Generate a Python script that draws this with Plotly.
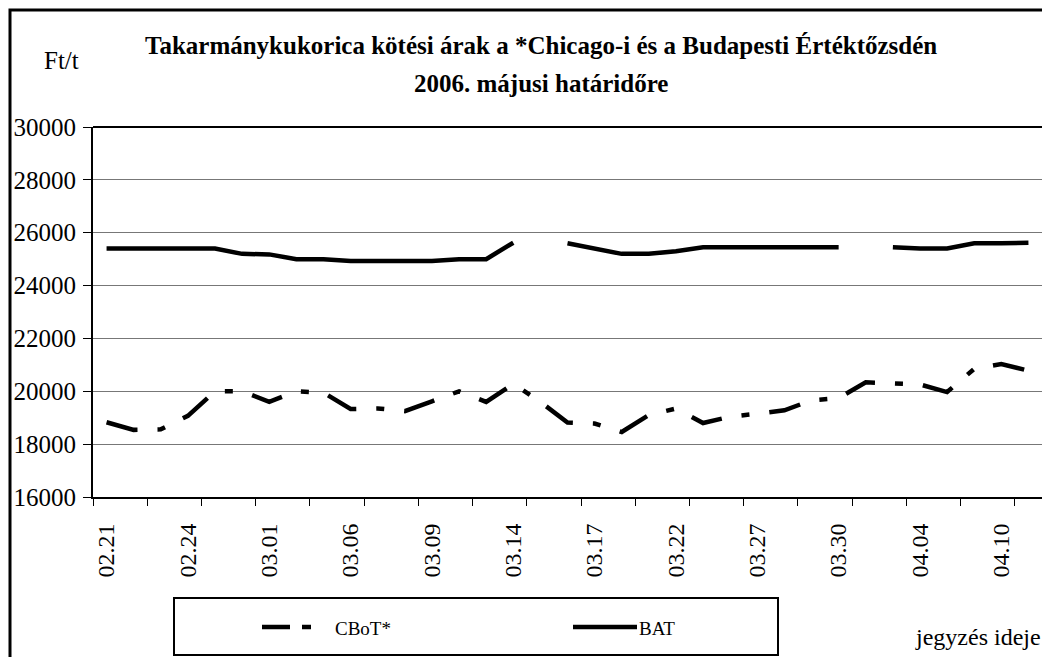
import plotly.graph_objects as go

# trading days (only every third one is labelled on the axis)
dates = ["02.21", "02.22", "02.23", "02.24", "02.27", "02.28", "03.01", "03.02", "03.03",
         "03.06", "03.07", "03.08", "03.09", "03.10", "03.13", "03.14", "03.15", "03.16",
         "03.17", "03.20", "03.21", "03.22", "03.23", "03.24", "03.27", "03.28", "03.29",
         "03.30", "03.31", "04.03", "04.04", "04.05", "04.07", "04.10", "04.11"]

cbot = [18830, 18540, 18560, 19070, 20000, 20000, 19600, 20000, 19950, 19330, 19350, 19250,
        19620, 20000, 19600, 20280, 19600, 18820, 18780, 18460, 19100, 19350, 18800, 19040,
        19150, 19280, 19660, 19740, 20340, 20290, 20260, 19970, 20850, 21030, 20780]

bat = [25400, 25400, 25400, 25400, 25400, 25200, 25180, 25000, 25000, 24930, 24930, 24930,
       24930, 25000, 25000, 25620, None, 25600, 25400, 25200, 25200, 25300, 25450, 25450,
       25450, 25450, 25450, 25450, None, 25450, 25400, 25400, 25600, 25600, 25620]

label_every = 3
SERIF = "serif"

W, H = 1042, 657
PLOT_L, PLOT_T, PLOT_B = 93, 127, 497          # page pixels of the plot area
L, R, T, B = PLOT_L, 0, PLOT_T, H - PLOT_B


def fx(px):
    """page pixel -> paper x"""
    return (px - L) / (W - L - R)


def fy(py):
    """page pixel -> paper y"""
    return (H - B - py) / (H - B - T)


def label(text, px, py, size, anchor="center"):
    fig.add_annotation(text=text, xref="paper", yref="paper", x=fx(px), y=fy(py),
                       xanchor=anchor, yanchor="middle", showarrow=False,
                       font=dict(family=SERIF, size=size, color="black"))


idx = list(range(len(dates)))
cbot_dash = "32px,20px,8px,20px"

fig = go.Figure()
fig.add_trace(go.Scatter(x=idx, y=cbot, name="CBoT*", mode="lines",
                         line=dict(color="black", width=4.5, dash=cbot_dash)))
fig.add_trace(go.Scatter(x=idx, y=bat, name="BAT", mode="lines",
                         line=dict(color="black", width=4.5), connectgaps=False))

fig.update_layout(
    width=W, height=H, autosize=False,
    margin=dict(l=L, r=R, t=T, b=B, pad=0),
    paper_bgcolor="white", plot_bgcolor="white",
    showlegend=False,
    font=dict(family=SERIF, color="black", size=22),
)

fig.update_xaxes(
    range=[-0.5, len(dates) - 0.5],
    tickmode="array",
    tickvals=idx[::label_every],
    ticktext=dates[::label_every],
    tickangle=-90,
    ticks="",
    ticklabelstandoff=15,
    tickfont=dict(family=SERIF, size=24),
    showgrid=False, zeroline=False,
    showline=True, linecolor="black", linewidth=2,
    minor=dict(tickvals=[-0.5 + 2 * k for k in range(18)], ticks="outside",
               ticklen=7, tickcolor="black", tickwidth=1, showgrid=False),
)
fig.update_yaxes(
    range=[16000, 30000], dtick=2000, tick0=16000, tickformat="d",
    ticks="outside", ticklen=8, tickcolor="black",
    ticklabelstandoff=2,
    tickfont=dict(family=SERIF, size=25),
    showgrid=True, gridcolor="#777777", gridwidth=1,
    zeroline=False,
    showline=True, linecolor="black", linewidth=2,
)

# top edge of the plot area (the right edge lies outside the picture)
fig.add_shape(type="line", xref="paper", yref="paper", x0=0, x1=1, y0=1, y1=1,
              line=dict(color="black", width=2))

# outer chart frame (right / bottom edges fall outside the picture)
fig.add_shape(type="rect", xref="paper", yref="paper",
              x0=fx(10), x1=fx(1060), y0=fy(680), y1=fy(10),
              line=dict(color="black", width=3))

# titles and axis captions
label("<b>Takarmánykukorica kötési árak a *Chicago-i és a Budapesti Értéktőzsdén</b>", 541, 45, 25)
label("<b>2006. májusi határidőre</b>", 541, 83, 25)
label("Ft/t", 61, 60, 25)
label("jegyzés ideje", 978, 637, 24)

# legend box
fig.add_shape(type="rect", xref="paper", yref="paper",
              x0=fx(174), x1=fx(778), y0=fy(655), y1=fy(598),
              line=dict(color="black", width=2))
fig.add_shape(type="line", xref="paper", yref="paper",
              x0=fx(262), x1=fx(312), y0=fy(627), y1=fy(627),
              line=dict(color="black", width=4.5, dash="28px,12px,9px,20px"))
label("CBoT*", 333, 628, 19, anchor="left")
fig.add_shape(type="line", xref="paper", yref="paper",
              x0=fx(573), x1=fx(637), y0=fy(627), y1=fy(627),
              line=dict(color="black", width=4.5))
label("BAT", 637, 628, 19, anchor="left")

# drop the default page margin so the figure fills the window exactly
fig.write_html("out.html",
               config={"displayModeBar": False},
               post_script="document.body.style.margin='0';document.body.style.overflow='hidden';")
